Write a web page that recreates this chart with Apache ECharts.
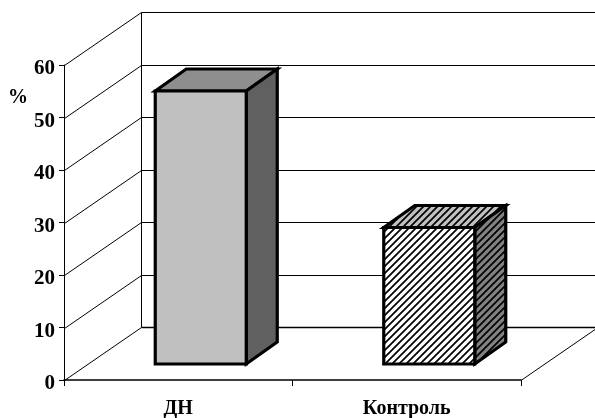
<!DOCTYPE html>
<html lang="ru">
<head>
    <meta charset="UTF-8">
    <title>Chart</title>
    <script src="https://cdn.jsdelivr.net/npm/echarts@6/dist/echarts.min.js"></script>
    <style>
        html, body { margin: 0; padding: 0; background: #fff; }
        #chart { width: 595px; height: 418px; }
    </style>
</head>
<body>
<div id="chart"></div>
<script>
    var categories = ['ДН', 'Контроль'];
    var values = [52, 26];
    var yTicks = [0, 10, 20, 30, 40, 50, 60];

    var fontName = '"Liberation Serif"';
    // смещение задней стенки и глубины столбика
    var wallDx = 77, wallDy = -53;
    var barDx = 31, barDy = -22;
    var floorDx = 22.5, floorDy = -16;
    var barWidth = 91;

    function hatch(bg, fg) {
        var s = 7;
        var c = document.createElement('canvas');
        c.width = s; c.height = s;
        var ctx = c.getContext('2d');
        ctx.fillStyle = bg;
        ctx.fillRect(0, 0, s, s);
        ctx.strokeStyle = fg;
        ctx.lineWidth = 1.7;
        ctx.beginPath();
        for (var i = -s; i <= 2 * s; i += s) {
            ctx.moveTo(i - 2, s + 2);
            ctx.lineTo(i + s + 2, -2);
        }
        ctx.stroke();
        return { image: c, repeat: 'repeat' };
    }

    var barFills = [
        { front: '#c0c0c0', top: '#8e8e8e', side: '#606060' },
        { front: hatch('#fff', '#000'), top: hatch('#c0c0c0', '#000'), side: hatch('#808080', '#000') }
    ];

    function renderWall(params, api) {
        var sys = params.coordSys;
        var tick = api.value(0);
        var y = Math.round(api.coord([0, tick])[1]) + 0.5;
        var x0 = Math.round(sys.x) + 0.5;
        var bx = x0 + wallDx, by = y + wallDy;
        var right = sys.x + sys.width;
        var style = { stroke: '#000', lineWidth: 1, fill: null };
        var kids = [
            { type: 'line', shape: { x1: x0, y1: y, x2: bx, y2: by }, style: style },
            { type: 'line', shape: { x1: bx, y1: by, x2: right + wallDx, y2: by },
              style: { stroke: '#000', lineWidth: tick === 0 ? 1.5 : 1 } }
        ];
        if (tick === 0) {
            kids.push({ type: 'line', shape: { x1: right, y1: y, x2: right + wallDx, y2: by }, style: style });
            var topY = Math.round(api.coord([0, 60])[1]) + 0.5 + wallDy;
            kids.push({ type: 'line', shape: { x1: bx, y1: by, x2: bx, y2: topY }, style: style });
        }
        return { type: 'group', children: kids };
    }

    function renderBar(params, api) {
        var i = api.value(0);
        var base = api.coord([i, 0]);
        var top = api.coord([i, api.value(1)]);
        var l = base[0] + floorDx - barWidth / 2, r = l + barWidth;
        var b = base[1] + floorDy, t = top[1] + floorDy;
        var fill = barFills[params.dataIndex];
        function poly(points, f) {
            return { type: 'polygon', shape: { points: points },
                     style: { fill: f, stroke: '#000', lineWidth: 3.2, lineJoin: 'miter' } };
        }
        return { type: 'group', children: [
            poly([[l, t], [l + barDx, t + barDy], [r + barDx, t + barDy], [r, t]], fill.top),
            poly([[r, t], [r + barDx, t + barDy], [r + barDx, b + barDy], [r, b]], fill.side),
            poly([[l, t], [r, t], [r, b], [l, b]], fill.front)
        ] };
    }

    var chart = echarts.init(document.getElementById('chart'), null, { renderer: 'canvas' });
    chart.setOption({
        animation: false,
        backgroundColor: '#fff',
        grid: { left: 64, right: 74, top: 65, bottom: 38, outerBoundsMode: 'none' },
        xAxis: {
            type: 'category',
            data: categories,
            axisLine: { lineStyle: { color: '#000', width: 1.5 } },
            axisTick: { show: true, alignWithLabel: false, length: 6, lineStyle: { color: '#000' } },
            axisLabel: { color: '#000', fontFamily: fontName, fontWeight: 'bold', fontSize: 20, margin: 19 }
        },
        yAxis: {
            type: 'value',
            min: 0,
            max: 60,
            interval: 10,
            axisLine: { show: true, lineStyle: { color: '#000', width: 1 } },
            axisTick: { show: true, length: 5, lineStyle: { color: '#000' } },
            axisLabel: { color: '#000', fontFamily: fontName, fontWeight: 'bold', fontSize: 21, margin: 9, verticalAlign: 'top', lineHeight: 8 },
            splitLine: { show: false }
        },
        graphic: [{
            type: 'text', left: 8, top: 88,
            style: { text: '%', fill: '#000', font: 'bold 20px ' + fontName }
        }],
        series: [
            {
                type: 'custom',
                coordinateSystem: 'cartesian2d',
                renderItem: renderWall,
                clip: false,
                silent: true,
                z: 1,
                encode: { y: 0 },
                data: yTicks.map(function (t) { return [t]; })
            },
            {
                type: 'custom',
                coordinateSystem: 'cartesian2d',
                renderItem: renderBar,
                clip: false,
                silent: true,
                z: 2,
                encode: { x: 0, y: 1 },
                data: values.map(function (v, i) { return [i, v]; })
            }
        ]
    });
</script>
</body>
</html>
